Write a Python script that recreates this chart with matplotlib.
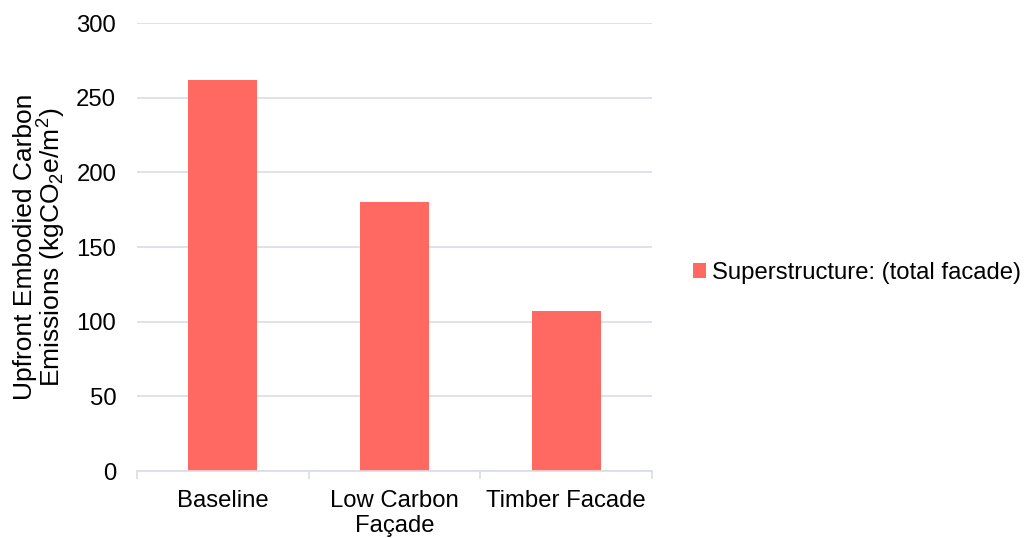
import matplotlib
matplotlib.use("Agg")
import matplotlib.pyplot as plt
import numpy as np

categories = ["Baseline", "Low Carbon\nFaçade", "Timber Facade"]
values = [262, 180, 107]
series_name = "Superstructure: (total facade)"
y_ticks = [0, 50, 100, 150, 200, 250, 300]

bar_color = "#FF6961"
grid_color = "#D9DEE4"

plt.rcParams["font.family"] = ["Liberation Sans", "DejaVu Sans"]
plt.rcParams["mathtext.fontset"] = "custom"
plt.rcParams["mathtext.rm"] = "Liberation Sans"
plt.rcParams["mathtext.it"] = "Liberation Sans"

fs = 17.2

fig = plt.figure(figsize=(10.26, 5.38), dpi=100)
ax = fig.add_axes([0.1335, 0.1245, 0.502, 0.8327])

x = np.arange(len(categories))
ax.bar(x, values, width=0.4, color=bar_color, label=series_name, zorder=3)

ax.set_xlim(-0.5, len(categories) - 0.5)
ax.set_ylim(0, 300)
ax.set_yticks(y_ticks)
ax.set_xticks(x)
ax.set_xticklabels(categories, fontsize=fs, linespacing=1.15)
ax.tick_params(axis="y", labelsize=fs, length=0, pad=15)
ax.tick_params(axis="x", which="major", length=0, pad=14)
ax.set_xticks(np.arange(-0.5, len(categories), 1.0), minor=True)
ax.tick_params(axis="x", which="minor", length=6, color=grid_color, width=1.2)

ax.grid(axis="y", color=grid_color, linewidth=1.2, zorder=0)
for s in ["top", "right", "left"]:
    ax.spines[s].set_visible(False)
ax.spines["bottom"].set_color(grid_color)
ax.spines["bottom"].set_linewidth(1.2)
ax.spines["bottom"].set_zorder(4)

ax.set_ylabel("Upfront Embodied Carbon\nEmissions (kgCO$_2$e/m$^2$)", fontsize=19,
              linespacing=0.95, labelpad=6)

ax.legend(loc="center left", bbox_to_anchor=(1.08, 0.442), frameon=False,
          fontsize=fs, handlelength=0.55, handleheight=0.55, handletextpad=0.25,
          borderpad=0, borderaxespad=0)

fig.savefig("out.png", dpi=100)
